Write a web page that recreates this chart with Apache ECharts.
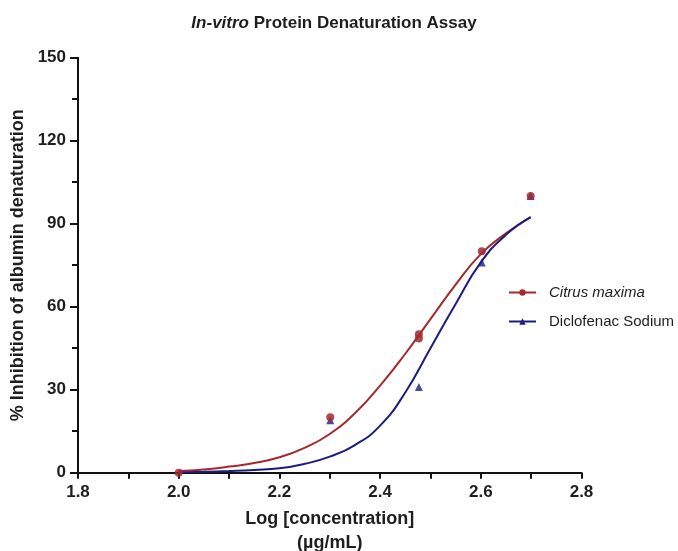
<!DOCTYPE html>
<html>
<head>
<meta charset="utf-8">
<script src="https://cdn.jsdelivr.net/npm/echarts@6/dist/echarts.min.js"></script>
<style>
  html, body { margin: 0; padding: 0; background: #ffffff; }
  #chart { width: 678px; height: 551px; }
</style>
</head>
<body>
<div id="chart"></div>
<script>
// measured points (log concentration, % inhibition)
const logConc = [2.0, 2.301, 2.477, 2.477, 2.602, 2.699];
const citrusPoints = [0, 20, 50, 48.5, 80, 100];
const diclofenacX = [2.0, 2.301, 2.477, 2.602, 2.699];
const diclofenacPoints = [-0.5, 19, 31, 76, 100];

// fitted curves
const curveX = [2.0, 2.05, 2.1, 2.15, 2.2, 2.25, 2.3, 2.35, 2.4, 2.45, 2.5, 2.55, 2.6, 2.65, 2.699];
const citrusCurve = [0.6, 1.2, 2.2, 3.5, 5.6, 9.0, 14, 21.5, 31.5, 43, 55.5, 68, 79, 86.5, 92.4];
const diclofenacCurve = [0.1, 0.3, 0.6, 1.0, 1.6, 3.2, 5.8, 10, 17, 29, 45, 61, 76, 86, 92.4];

const xTicks = [1.8, 2.0, 2.2, 2.4, 2.6, 2.8];
const yTicks = [0, 30, 60, 90, 120, 150];

const RED = '#a3292d';
const BLUE = '#1c1d82';
const INK = '#1e1e1e';
const FONT = 'Liberation Sans';

const pairs = (xs, ys) => xs.map((x, i) => [x, ys[i]]);

const chart = echarts.init(document.getElementById('chart'));
chart.setOption({
  animation: false,
  backgroundColor: '#ffffff',
  textStyle: { fontFamily: FONT },
  title: {
    text: '{i|In-vitro} Protein Denaturation Assay',
    left: 329,
    textAlign: 'center',
    top: 10,
    textStyle: {
      fontFamily: FONT, fontSize: 17, fontWeight: 'bold', color: INK,
      rich: { i: { fontFamily: FONT, fontSize: 17, fontWeight: 'bold', fontStyle: 'italic', color: INK } }
    }
  },
  legend: {
    orient: 'vertical',
    left: 508,
    top: 285,
    padding: 0,
    itemWidth: 27,
    itemHeight: 8,
    itemGap: 14,
    data: ['Citrus maxima', 'Diclofenac Sodium'],
    formatter: name => name === 'Citrus maxima' ? '{i|' + name + '}' : name,
    textStyle: {
      fontFamily: FONT, fontSize: 15, color: INK, padding: [0, 0, 0, 8],
      rich: { i: { fontFamily: FONT, fontSize: 15, fontStyle: 'italic', color: INK } }
    }
  },
  grid: { left: 78, right: 96.5, top: 57.7, bottom: 78.3, containLabel: false, outerBoundsMode: 'none' },
  xAxis: {
    type: 'value',
    min: xTicks[0],
    max: xTicks[xTicks.length - 1],
    interval: 0.2,
    name: 'Log [concentration]\n(\u00b5g/mL)',
    nameLocation: 'middle',
    nameGap: 34,
    nameTextStyle: { fontFamily: FONT, fontSize: 18, fontWeight: 'bold', color: INK, lineHeight: 24, verticalAlign: 'top' },
    axisLine: { show: true, onZero: false, lineStyle: { color: '#111', width: 2 } },
    axisTick: { show: true, length: 6, lineStyle: { color: '#111', width: 2 } },
    minorTick: { show: true, splitNumber: 2, length: 6, lineStyle: { color: '#111', width: 2 } },
    axisLabel: { fontFamily: FONT, fontSize: 17, fontWeight: 'bold', color: INK, margin: 11, formatter: v => v.toFixed(1) },
    splitLine: { show: false }
  },
  yAxis: {
    type: 'value',
    min: yTicks[0],
    max: yTicks[yTicks.length - 1],
    interval: 30,
    name: '% Inhibition of albumin denaturation',
    nameLocation: 'middle',
    nameGap: 50,
    nameTextStyle: { fontFamily: FONT, fontSize: 18, fontWeight: 'bold', color: INK },
    axisLine: { show: true, lineStyle: { color: '#111', width: 2 } },
    axisTick: { show: true, length: 8, lineStyle: { color: '#111', width: 2 } },
    minorTick: { show: true, splitNumber: 2, length: 6, lineStyle: { color: '#111', width: 2 } },
    axisLabel: { fontFamily: FONT, fontSize: 17, fontWeight: 'bold', color: INK, margin: 12 },
    splitLine: { show: false }
  },
  series: [
    {
      name: 'Citrus maxima',
      type: 'line',
      smooth: true,
      symbol: 'circle',
      showSymbol: false,
      itemStyle: { color: RED },
      lineStyle: { color: RED, width: 2 },
      data: pairs(curveX, citrusCurve),
      z: 2
    },
    {
      name: 'Diclofenac Sodium',
      type: 'line',
      smooth: true,
      symbol: 'triangle',
      showSymbol: false,
      itemStyle: { color: BLUE },
      lineStyle: { color: BLUE, width: 2 },
      data: pairs(curveX, diclofenacCurve),
      z: 2
    },
    {
      name: 'Diclofenac points',
      type: 'scatter',
      symbol: 'triangle',
      symbolSize: 8,
      itemStyle: { color: BLUE },
      data: pairs(diclofenacX, diclofenacPoints),
      z: 3
    },
    {
      name: 'Citrus points',
      type: 'scatter',
      symbol: 'circle',
      symbolSize: 8,
      itemStyle: { color: RED, opacity: 0.85 },
      data: pairs(logConc, citrusPoints),
      z: 4
    }
  ]
});
</script>
</body>
</html>
